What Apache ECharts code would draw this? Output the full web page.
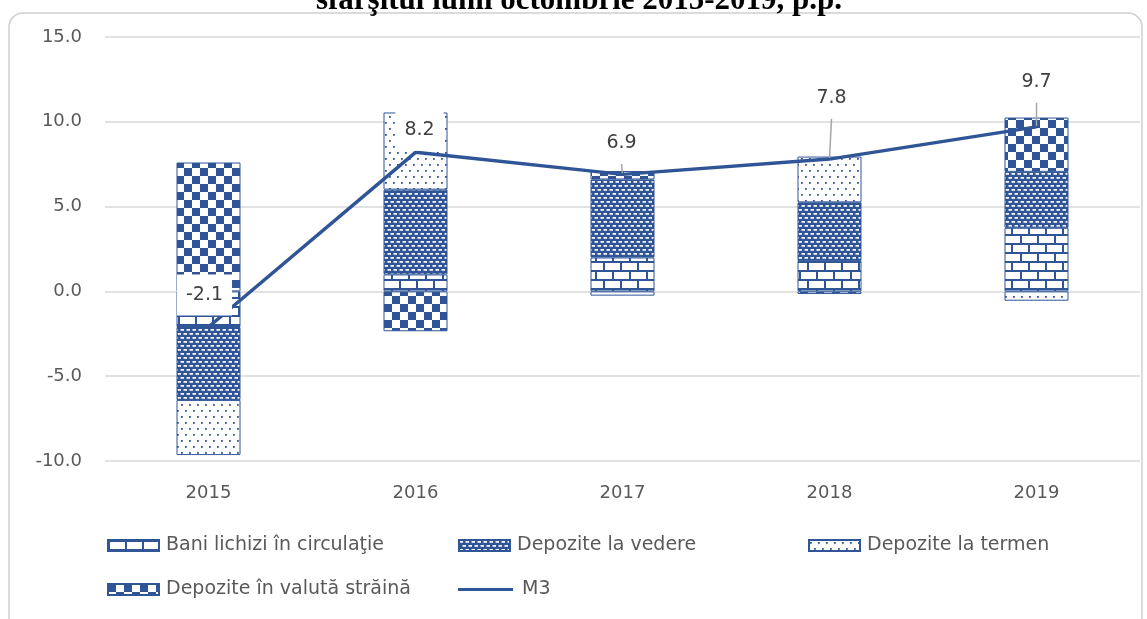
<!DOCTYPE html>
<html>
<head>
<meta charset="utf-8">
<script src="https://cdn.jsdelivr.net/npm/echarts@6/dist/echarts.min.js"></script>
<style>
  html, body { margin: 0; padding: 0; background: #ffffff; }
  #chart { width: 1147px; height: 619px; }
</style>
</head>
<body>
<div id="chart"></div>
<script>
// date (p.p.)
const years = ['2015', '2016', '2017', '2018', '2019'];
const baniLichizi = [-2.1, 1.0, 2.0, 1.8, 3.75];
const depoziteVedere = [-4.3, 5.0, 4.6, 3.45, 3.3];
const depoziteTermen = [-3.25, 4.55, -0.25, 2.7, -0.55];
const depoziteValuta = [7.6, -2.35, 0.5, -0.15, 3.2];
const m3 = [-2.1, 8.2, 6.9, 7.8, 9.7];

// pozitia etichetelor M3 (deplasare fata de punct)
const labelDx = [-4, 4, -1, 2, 0];
const labelDy = [-32, -22, -31, -61, -45];
const labelLeader = [false, false, true, true, true];

const BLUE = '#2F5597';
const FONT = 'DejaVu Sans';

function tile(w, h, draw) {
  const c = document.createElement('canvas');
  c.width = w; c.height = h;
  const ctx = c.getContext('2d');
  draw(ctx, w, h);
  return { image: c, repeat: 'repeat' };
}

// caramizi
const patBricks = tile(17, 18, function (ctx, w, h) {
  ctx.fillStyle = '#fff'; ctx.fillRect(0, 0, w, h);
  ctx.fillStyle = BLUE;
  ctx.fillRect(0, 0, w, 2);
  ctx.fillRect(0, 9, w, 2);
  ctx.fillRect(0, 2, 2, 7);
  ctx.fillRect(8, 11, 2, 7);
});
// liniute albe pe albastru
const patDash = tile(6, 8, function (ctx, w, h) {
  ctx.fillStyle = BLUE; ctx.fillRect(0, 0, w, h);
  ctx.fillStyle = 'rgba(255,255,255,0.95)';
  ctx.fillRect(0.5, 1, 3.5, 1.8);
  ctx.fillRect(3.5, 5, 3.5, 1.8);
  ctx.fillRect(-2.5, 5, 3.5, 1.8);
});
// puncte
const patDots = tile(8, 12, function (ctx, w, h) {
  ctx.fillStyle = '#fff'; ctx.fillRect(0, 0, w, h);
  ctx.fillStyle = BLUE;
  ctx.fillRect(1, 2, 1.8, 1.8);
  ctx.fillRect(5, 8, 1.8, 1.8);
});
// tabla de sah
const patCheck = tile(16, 16, function (ctx, w, h) {
  ctx.fillStyle = '#fff'; ctx.fillRect(0, 0, w, h);
  ctx.fillStyle = BLUE;
  ctx.fillRect(0, 0, 8, 8);
  ctx.fillRect(8, 8, 8, 8);
});

function barSeries(name, data, pattern) {
  return {
    name: name,
    type: 'bar',
    stack: 'total',
    barWidth: 64,
    data: data,
    itemStyle: { color: pattern, borderColor: BLUE, borderWidth: 1 }
  };
}

const legendBase = {
  icon: 'rect',
  padding: 0,
  itemWidth: 51,
  itemHeight: 11,
  textStyle: { fontFamily: FONT, fontSize: 19, color: '#595959', padding: [0, 0, 0, 2] }
};

const chart = echarts.init(document.getElementById('chart'));

const option = {
  backgroundColor: '#ffffff',
  animation: false,
  textStyle: { fontFamily: FONT },
  graphic: [
    {
      type: 'rect',
      z: -10,
      shape: { x: 9, y: 13, width: 1133, height: 700, r: 14 },
      style: { fill: 'none', stroke: '#d0d0d0', lineWidth: 1.5 }
    },
    {
      type: 'text',
      x: 579,
      y: 16,
      style: {
        text: 'sfârşitul lunii octombrie 2015-2019, p.p.',
        font: 'bold 31px "Liberation Serif"',
        fill: '#000',
        align: 'center',
        verticalAlign: 'bottom'
      }
    }
  ],
  grid: { left: 105, right: 7, top: 37, bottom: 158 },
  legend: [
    Object.assign({}, legendBase, { data: ['Bani lichizi în circulaţie'], left: 107, top: 536 }),
    Object.assign({}, legendBase, { data: ['Depozite la vedere'], left: 458, top: 536 }),
    Object.assign({}, legendBase, { data: ['Depozite la termen'], left: 808, top: 536 }),
    Object.assign({}, legendBase, { data: ['Depozite în valută străină'], left: 107, top: 580 }),
    Object.assign({}, legendBase, { data: ['M3'], left: 458, top: 580, itemWidth: 55, itemHeight: 3,
      textStyle: { fontFamily: FONT, fontSize: 19, color: '#595959', padding: [0, 0, 0, 4] } })
  ],
  xAxis: {
    type: 'category',
    data: years,
    axisLine: { show: false },
    axisTick: { show: false },
    axisLabel: { fontSize: 18, color: '#595959', margin: 23 }
  },
  yAxis: {
    type: 'value',
    min: -10,
    max: 15,
    interval: 5,
    axisLine: { show: false },
    axisTick: { show: false },
    axisLabel: {
      fontSize: 18, color: '#595959', margin: 23,
      formatter: function (v) { return v.toFixed(1); }
    },
    splitLine: { lineStyle: { color: '#d9d9d9', width: 1.5 } }
  },
  series: [
    barSeries('Bani lichizi în circulaţie', baniLichizi, patBricks),
    barSeries('Depozite la vedere', depoziteVedere, patDash),
    barSeries('Depozite la termen', depoziteTermen, patDots),
    barSeries('Depozite în valută străină', depoziteValuta, patCheck),
    {
      name: 'M3',
      type: 'line',
      z: 5,
      data: m3.map(function (v, i) {
        return { value: v, labelLine: { show: labelLeader[i] } };
      }),
      symbol: 'circle',
      symbolSize: 2,
      showSymbol: true,
      lineStyle: { color: BLUE, width: 3.5 },
      itemStyle: { color: BLUE },
      label: {
        show: true,
        position: 'inside',
        fontSize: 19,
        color: '#404040',
        backgroundColor: '#ffffff',
        padding: [12, 9, 10, 9],
        formatter: function (p) { return p.value.toFixed(1); }
      },
      labelLine: { show: true, lineStyle: { color: '#a6a6a6', width: 1.5 } },
      labelLayout: function (p) {
        return { dx: labelDx[p.dataIndex], dy: labelDy[p.dataIndex] };
      }
    }
  ]
};

chart.setOption(option);
window.addEventListener('resize', function () { chart.resize(); });
</script>
</body>
</html>
